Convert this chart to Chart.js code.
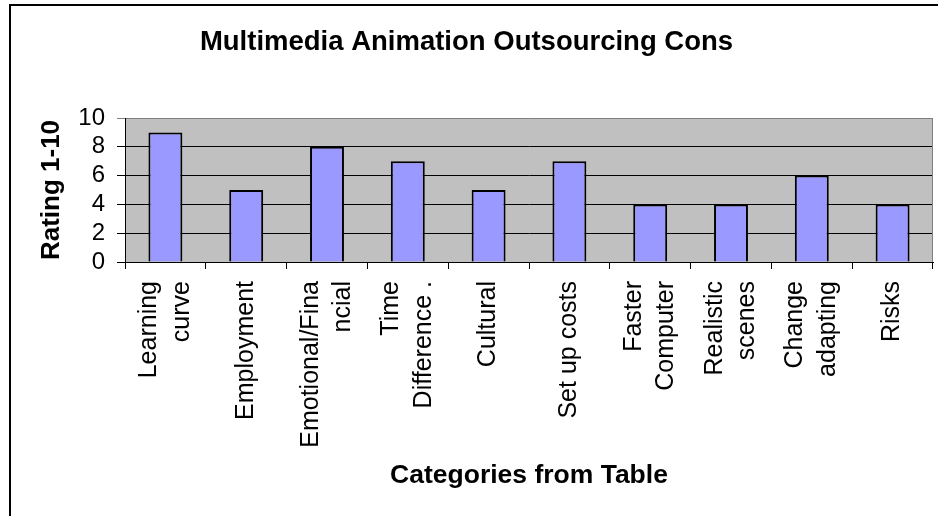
<!DOCTYPE html>
<html>
<head>
<meta charset="utf-8">
<script src="https://cdn.jsdelivr.net/npm/chart.js@4/dist/chart.umd.min.js"></script>
<style>
  html, body { margin: 0; padding: 0; background: #ffffff; }
  #wrap { position: relative; width: 938px; height: 516px; }
</style>
</head>
<body>
<div id="wrap"><canvas id="c" width="938" height="516"></canvas></div>
<script>
const categories = [
  ["Learning", "curve"],
  "Employment",
  ["Emotional/Fina", "ncial"],
  ["Time", "Difference ."],
  "Cultural",
  "Set up costs",
  ["Faster", "Computer"],
  ["Realistic", "scenes"],
  ["Change", "adapting"],
  "Risks"
];
const ratings = [9, 5, 8, 7, 5, 7, 4, 4, 6, 4];
const yTicks = [0, 2, 4, 6, 8, 10];

const FONT = "'Liberation Sans', Arial, Helvetica, sans-serif";

const decor = {
  id: 'decor',
  beforeDraw(chart) {
    const ctx = chart.ctx;
    const a = chart.chartArea;
    ctx.save();
    ctx.fillStyle = '#ffffff';
    ctx.fillRect(0, 0, chart.width, chart.height);
    ctx.strokeStyle = '#000000';
    ctx.lineWidth = 2;
    ctx.strokeRect(10, 5, 2000, 2000);
    ctx.fillStyle = '#c0c0c0';
    ctx.fillRect(a.left, a.top, a.right - a.left, a.bottom - a.top);
    ctx.restore();

    // centre multi-line rotated category labels on their ticks
    const xs = chart.scales.x;
    const items = xs.getLabelItems();
    if (!items._centred) {
      items.forEach(it => {
        if (Array.isArray(it.label) && it.label.length > 1) {
          const lh = it.font.lineHeight;
          it.options.translation[0] -= lh * (it.label.length - 1) / 2;
        }
      });
      items._centred = true;
    }
  },
  beforeDatasetsDraw(chart) {
    const ctx = chart.ctx;
    const a = chart.chartArea;
    ctx.save();
    ctx.strokeStyle = '#808080';
    ctx.lineWidth = 1;
    ctx.beginPath();
    ctx.moveTo(a.right - 0.5, a.top);
    ctx.lineTo(a.right - 0.5, a.bottom);
    ctx.stroke();
    ctx.restore();
  }
};

new Chart(document.getElementById('c'), {
  type: 'bar',
  data: {
    labels: categories,
    datasets: [{
      data: ratings,
      backgroundColor: '#9999ff',
      borderColor: '#000000',
      borderWidth: 2,
      categoryPercentage: 1,
      barPercentage: 0.42
    }]
  },
  options: {
    responsive: false,
    animation: false,
    layout: { padding: { left: 0, right: 5, top: 0, bottom: 0 } },
    plugins: {
      legend: { display: false },
      tooltip: { enabled: false },
      title: {
        display: true,
        text: 'Multimedia Animation Outsourcing Cons',
        color: '#000000',
        font: { family: FONT, size: 27.5, weight: 'bold', lineHeight: 1.2 },
        padding: { top: 26, bottom: 59 }
      }
    },
    scales: {
      x: {
        grid: {
          display: true,
          drawOnChartArea: false,
          drawTicks: true,
          tickLength: 7,
          color: '#000000',
          offset: true
        },
        border: { display: true, color: '#000000', width: 1 },
        ticks: {
          autoSkip: false,
          maxRotation: 90,
          minRotation: 90,
          padding: 12,
          color: '#000000',
          font: { family: FONT, size: 25, lineHeight: 1.3 }
        },
        title: {
          display: true,
          text: 'Categories from Table',
          color: '#000000',
          font: { family: FONT, size: 26.5, weight: 'bold', lineHeight: 1.2 },
          padding: { top: 0, bottom: 24 }
        },
        afterFit(scale) { scale.height = 254; }
      },
      y: {
        min: 0,
        max: 10,
        afterBuildTicks(scale) { scale.ticks = yTicks.map(v => ({ value: v })); },
        grid: {
          color: (ctx) => (ctx.tick && ctx.tick.value === 10 ? '#808080' : '#000000'),
          lineWidth: 1,
          drawTicks: true,
          tickLength: 8
        },
        border: { display: true, color: '#000000', width: 1 },
        ticks: {
          autoSkip: false,
          padding: 12,
          color: '#000000',
          font: { family: FONT, size: 24 }
        },
        title: {
          display: true,
          text: 'Rating 1-10',
          color: '#000000',
          font: { family: FONT, size: 26, weight: 'bold', lineHeight: 1.2 },
          padding: { top: 36, bottom: 0 }
        },
        afterFit(scale) { scale.width = 125; }
      }
    }
  },
  plugins: [decor]
});
</script>
</body>
</html>
